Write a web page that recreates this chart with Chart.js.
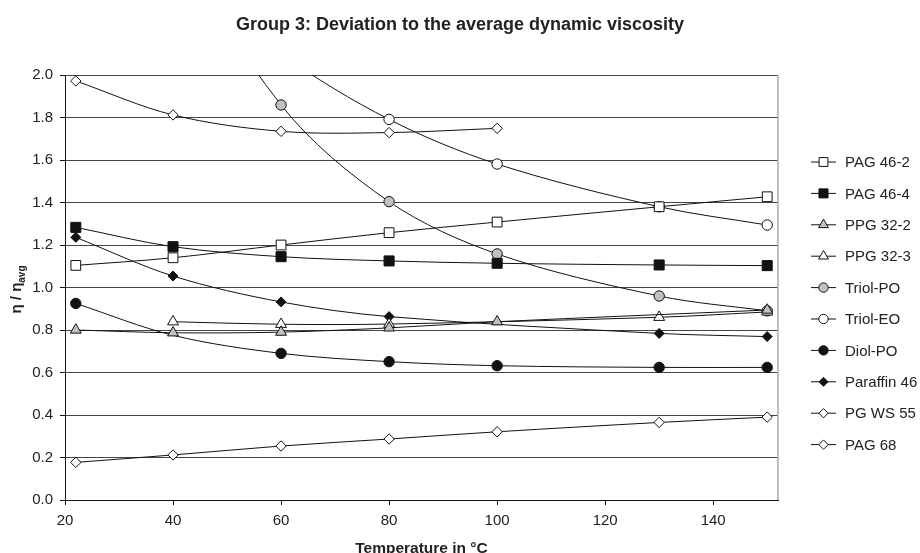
<!DOCTYPE html>
<html>
<head>
<meta charset="utf-8">
<script src="https://cdn.jsdelivr.net/npm/chart.js@4"></script>
<style>
  html, body { margin: 0; padding: 0; background: #fff; }
</style>
</head>
<body>
<canvas id="graph" width="920" height="553"></canvas>
<script>
// temperatures in °C, one value per series (null = no point)
const temps = [22, 40, 60, 80, 100, 130, 150];
const pag462 = [1.104, 1.140, 1.200, 1.258, 1.308, 1.380, 1.427];
const pag464 = [1.283, 1.192, 1.145, 1.125, 1.114, 1.106, 1.103];
const ppg322 = [0.800, 0.787, 0.790, 0.810, 0.839, null, 0.894];
const ppg323 = [null, 0.839, 0.827, 0.828, null, 0.860, 0.885];
const triolPO = [4.0, 2.70, 1.859, 1.404, 1.158, 0.960, 0.890];
const triolEO = [3.0, 2.52, 2.100, 1.791, 1.581, 1.380, 1.294];
const diolPO = [0.925, 0.775, 0.690, 0.651, 0.632, 0.624, 0.624];
const paraffin46 = [1.236, 1.054, 0.932, 0.863, null, 0.784, 0.769];
const pgws55 = [1.972, 1.812, 1.735, 1.729, 1.749, null, null];
const pag68 = [0.177, 0.212, 0.254, 0.287, 0.321, 0.365, 0.390];

// points whose marker is covered in the original (drawn without a marker)
const noMarker = { 'Diol-PO': [40] };

const xTicks = [20, 40, 60, 80, 100, 120, 140];
const yTicks = [0, 0.2, 0.4, 0.6, 0.8, 1.0, 1.2, 1.4, 1.6, 1.8, 2.0];

const FONT = "'Liberation Sans', Arial, sans-serif";
const GRAY = '#c0c0c0';

function toPoints(values) {
    let pts = [];
    for (let i = 0; i < temps.length; i++) {
        if (values[i] != null) pts.push({ x: temps[i], y: values[i] });
    }
    return pts;
}

function series(label, values, shape, fill, radius) {
    let skip = noMarker[label] || [];
    return {
        label: label,
        data: toPoints(values),
        borderColor: '#111',
        borderWidth: 1,
        backgroundColor: fill,
        pointStyle: shape,
        markerSize: radius,
        pointRadius: ctx => (ctx.raw && skip.indexOf(ctx.raw.x) >= 0) ? 0 : radius,
        pointBackgroundColor: fill,
        pointBorderColor: '#111',
        pointBorderWidth: 1,
        tension: 0.33,
        fill: false
    };
}

const datasets = [
    series('PAG 46-2', pag462, 'rect', '#fff', 6.9),
    series('PAG 46-4', pag464, 'rect', '#111', 7.1),
    series('PPG 32-2', ppg322, 'triangle', GRAY, 6.3),
    series('PPG 32-3', ppg323, 'triangle', '#fff', 6.3),
    series('Triol-PO', triolPO, 'circle', GRAY, 5.2),
    series('Triol-EO', triolEO, 'circle', '#fff', 5.2),
    series('Diol-PO', diolPO, 'circle', '#111', 5.2),
    series('Paraffin 46', paraffin46, 'rectRot', '#111', 5),
    series('PG WS 55', pgws55, 'rectRot', '#fff', 5.2),
    series('PAG 68', pag68, 'rectRot', '#fff', 5.2)
];

function legendMarker(ctx, shape, x, y, r) {
    ctx.beginPath();
    if (shape == 'rect') {
        let s = r * Math.SQRT1_2;
        ctx.rect(x - s, y - s, 2 * s, 2 * s);
    } else if (shape == 'triangle') {
        ctx.moveTo(x, y - r);
        ctx.lineTo(x + r * 0.866, y + r / 2);
        ctx.lineTo(x - r * 0.866, y + r / 2);
        ctx.closePath();
    } else if (shape == 'circle') {
        ctx.arc(x, y, r, 0, Math.PI * 2);
    } else {
        ctx.moveTo(x - r, y);
        ctx.lineTo(x, y - r);
        ctx.lineTo(x + r, y);
        ctx.lineTo(x, y + r);
        ctx.closePath();
    }
    ctx.fill();
    ctx.stroke();
}

const extras = {
    id: 'extras',
    afterDraw(chart) {
        const ctx = chart.ctx;
        const area = chart.chartArea;
        ctx.save();

        // right border of the plot
        ctx.strokeStyle = '#aaa';
        ctx.lineWidth = 1.5;
        ctx.beginPath();
        ctx.moveTo(area.right, area.top);
        ctx.lineTo(area.right, area.bottom);
        ctx.stroke();

        // title
        ctx.fillStyle = '#222';
        ctx.font = 'bold 18px ' + FONT;
        ctx.textAlign = 'center';
        ctx.textBaseline = 'middle';
        ctx.fillText('Group 3: Deviation to the average dynamic viscosity', 460, 25);

        // x axis title
        ctx.font = 'bold 15.5px ' + FONT;
        ctx.fillText('Temperature in °C', (area.left + area.right) / 2, 549);

        // y axis title with subscript
        ctx.save();
        ctx.translate(16, (area.top + area.bottom) / 2 + 2);
        ctx.rotate(-Math.PI / 2);
        ctx.textAlign = 'left';
        ctx.textBaseline = 'alphabetic';
        ctx.font = 'bold 15px ' + FONT;
        let main = 'η / η';
        let w1 = ctx.measureText(main).width;
        ctx.font = 'bold 10px ' + FONT;
        let w2 = ctx.measureText('avg').width;
        let x0 = -(w1 + w2) / 2;
        ctx.font = 'bold 15px ' + FONT;
        ctx.fillText(main, x0, 5);
        ctx.font = 'bold 10px ' + FONT;
        ctx.fillText('avg', x0 + w1, 9);
        ctx.restore();

        // legend
        ctx.font = '15px ' + FONT;
        ctx.textAlign = 'left';
        ctx.textBaseline = 'middle';
        chart.data.datasets.forEach(function (ds, i) {
            let y = 162 + i * 31.4;
            ctx.strokeStyle = '#111';
            ctx.lineWidth = 1;
            ctx.beginPath();
            ctx.moveTo(811, y);
            ctx.lineTo(836, y);
            ctx.stroke();
            ctx.fillStyle = ds.pointBackgroundColor;
            legendMarker(ctx, ds.pointStyle, 823.5, y, ds.markerSize * 0.9);
            ctx.fillStyle = '#222';
            ctx.fillText(ds.label, 845, y + 1);
        });
        ctx.restore();
    }
};

new Chart(document.getElementById('graph').getContext('2d'), {
    type: 'line',
    data: { datasets: datasets },
    options: {
        responsive: false,
        animation: false,
        devicePixelRatio: 1,
        layout: { padding: { top: 75, right: 142, left: 0, bottom: 0 } },
        plugins: {
            legend: { display: false },
            title: { display: false },
            tooltip: { enabled: false }
        },
        scales: {
            x: {
                type: 'linear',
                min: 20,
                max: 152,
                afterBuildTicks: function (scale) {
                    scale.ticks = xTicks.map(v => ({ value: v }));
                },
                afterFit: function (scale) { scale.height = 53; },
                grid: { drawOnChartArea: false, drawTicks: true, tickLength: 5, color: '#111' },
                border: { color: '#111', width: 1 },
                ticks: { color: '#222', font: { family: FONT, size: 15 }, padding: 7, maxRotation: 0 }
            },
            y: {
                min: 0,
                max: 2,
                afterBuildTicks: function (scale) {
                    scale.ticks = yTicks.map(v => ({ value: v }));
                },
                afterFit: function (scale) { scale.width = 65; },
                grid: { color: '#444', tickColor: '#111', tickLength: 5, lineWidth: 1 },
                border: { color: '#111', width: 1 },
                ticks: {
                    color: '#222',
                    font: { family: FONT, size: 15 },
                    padding: 7,
                    callback: v => v.toFixed(1)
                }
            }
        }
    },
    plugins: [extras]
});
</script>
</body>
</html>
